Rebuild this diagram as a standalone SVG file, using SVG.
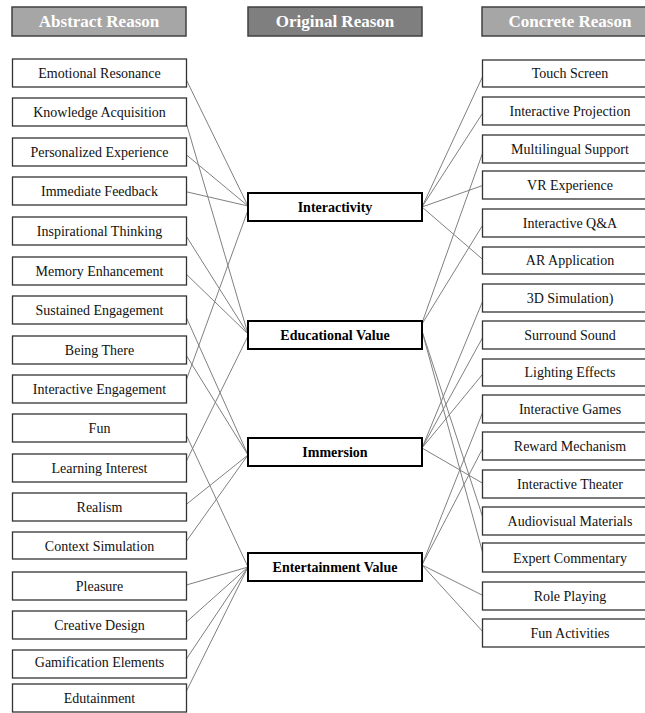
<svg xmlns="http://www.w3.org/2000/svg" width="645" height="713" viewBox="0 0 645 713">
<style>
.hdr{stroke:#404040;stroke-width:1.5}
.hl{fill:#a6a6a6}
.hm{fill:#7f7f7f}
.ht{font-family:"Liberation Serif","Times New Roman",serif;font-size:17px;font-weight:bold;fill:#ffffff;text-anchor:middle}
.sb{fill:#ffffff;stroke:#333333;stroke-width:1.3}
.mb{fill:#ffffff;stroke:#000000;stroke-width:2}
.st{font-family:"Liberation Serif","Times New Roman",serif;font-size:14px;fill:#111111;text-anchor:middle}
.mt{font-family:"Liberation Serif","Times New Roman",serif;font-size:14px;font-weight:bold;fill:#000000;text-anchor:middle}
.c line{stroke:#808080;stroke-width:1}
</style>
<rect width="645" height="713" fill="#ffffff"/>
<g id="headers">
<g id="h-abstract"><rect class="hdr hl" x="12" y="7" width="174" height="29"/><text class="ht" x="99" y="27">Abstract Reason</text></g>
<g id="h-original"><rect class="hdr hm" x="248" y="7" width="174" height="29"/><text class="ht" x="335" y="27">Original Reason</text></g>
<g id="h-concrete"><rect class="hdr hl" x="482" y="7" width="176" height="29"/><text class="ht" x="570" y="27">Concrete Reason</text></g>
</g>
<g id="connectors" class="c">
<line x1="183" y1="73" x2="248" y2="206"/>
<line x1="183" y1="152" x2="248" y2="206"/>
<line x1="183" y1="191" x2="248" y2="206"/>
<line x1="183" y1="389" x2="248" y2="210"/>
<line x1="183" y1="112" x2="248" y2="334"/>
<line x1="183" y1="231" x2="248" y2="334"/>
<line x1="183" y1="271" x2="248" y2="334"/>
<line x1="183" y1="468" x2="248" y2="336"/>
<line x1="183" y1="310" x2="248" y2="455"/>
<line x1="183" y1="350" x2="248" y2="455"/>
<line x1="183" y1="507" x2="248" y2="455"/>
<line x1="183" y1="546" x2="248" y2="455"/>
<line x1="183" y1="428" x2="248" y2="567"/>
<line x1="183" y1="586" x2="248" y2="567"/>
<line x1="183" y1="625" x2="248" y2="567"/>
<line x1="183" y1="664" x2="248" y2="567"/>
<line x1="183" y1="698" x2="248" y2="567"/>
<line x1="422" y1="207" x2="484" y2="73.5"/>
<line x1="422" y1="207" x2="484" y2="111"/>
<line x1="422" y1="207" x2="484" y2="185"/>
<line x1="422" y1="207" x2="484" y2="260.5"/>
<line x1="422" y1="323" x2="484" y2="149"/>
<line x1="422" y1="324" x2="484" y2="223"/>
<line x1="422" y1="331" x2="484" y2="521"/>
<line x1="422" y1="331" x2="484" y2="557.5"/>
<line x1="422" y1="448" x2="484" y2="298"/>
<line x1="422" y1="448" x2="484" y2="335"/>
<line x1="422" y1="448" x2="484" y2="372.5"/>
<line x1="422" y1="448" x2="484" y2="484"/>
<line x1="422" y1="565" x2="484" y2="409"/>
<line x1="422" y1="565" x2="484" y2="446"/>
<line x1="422" y1="565" x2="484" y2="596"/>
<line x1="422" y1="565" x2="484" y2="633"/>
</g>
<g id="abstract">
<g id="a1"><rect class="sb" x="12.5" y="59" width="174" height="28"/><text class="st" x="99.5" y="78">Emotional Resonance</text></g>
<g id="a2"><rect class="sb" x="12.5" y="98" width="174" height="28"/><text class="st" x="99.5" y="117">Knowledge Acquisition</text></g>
<g id="a3"><rect class="sb" x="12.5" y="138" width="174" height="28"/><text class="st" x="99.5" y="157">Personalized Experience</text></g>
<g id="a4"><rect class="sb" x="12.5" y="177" width="174" height="28"/><text class="st" x="99.5" y="196">Immediate Feedback</text></g>
<g id="a5"><rect class="sb" x="12.5" y="217" width="174" height="28"/><text class="st" x="99.5" y="236">Inspirational Thinking</text></g>
<g id="a6"><rect class="sb" x="12.5" y="257" width="174" height="28"/><text class="st" x="99.5" y="276">Memory Enhancement</text></g>
<g id="a7"><rect class="sb" x="12.5" y="296" width="174" height="28"/><text class="st" x="99.5" y="315">Sustained Engagement</text></g>
<g id="a8"><rect class="sb" x="12.5" y="336" width="174" height="28"/><text class="st" x="99.5" y="355">Being There</text></g>
<g id="a9"><rect class="sb" x="12.5" y="375" width="174" height="28"/><text class="st" x="99.5" y="394">Interactive Engagement</text></g>
<g id="a10"><rect class="sb" x="12.5" y="414" width="174" height="28"/><text class="st" x="99.5" y="433">Fun</text></g>
<g id="a11"><rect class="sb" x="12.5" y="454" width="174" height="28"/><text class="st" x="99.5" y="473">Learning Interest</text></g>
<g id="a12"><rect class="sb" x="12.5" y="493" width="174" height="28"/><text class="st" x="99.5" y="512">Realism</text></g>
<g id="a13"><rect class="sb" x="12.5" y="532" width="174" height="27"/><text class="st" x="99.5" y="551">Context Simulation</text></g>
<g id="a14"><rect class="sb" x="12.5" y="572" width="174" height="28"/><text class="st" x="99.5" y="591">Pleasure</text></g>
<g id="a15"><rect class="sb" x="12.5" y="611" width="174" height="28"/><text class="st" x="99.5" y="630">Creative Design</text></g>
<g id="a16"><rect class="sb" x="12.5" y="650" width="174" height="28"/><text class="st" x="99.5" y="667">Gamification Elements</text></g>
<g id="a17"><rect class="sb" x="12.5" y="684" width="174" height="28"/><text class="st" x="99.5" y="703">Edutainment</text></g>
</g>
<g id="original">
<g id="m1"><rect class="mb" x="248" y="193" width="174" height="28"/><text class="mt" x="335" y="212">Interactivity</text></g>
<g id="m2"><rect class="mb" x="248" y="321" width="174" height="28"/><text class="mt" x="335" y="340">Educational Value</text></g>
<g id="m3"><rect class="mb" x="248" y="438" width="174" height="28"/><text class="mt" x="335" y="457">Immersion</text></g>
<g id="m4"><rect class="mb" x="248" y="553" width="174" height="28"/><text class="mt" x="335" y="572">Entertainment Value</text></g>
</g>
<g id="concrete">
<g id="c1"><rect class="sb" x="482.5" y="60" width="176" height="27"/><text class="st" x="570" y="78">Touch Screen</text></g>
<g id="c2"><rect class="sb" x="482.5" y="97" width="176" height="28"/><text class="st" x="570" y="116">Interactive Projection</text></g>
<g id="c3"><rect class="sb" x="482.5" y="135" width="176" height="28"/><text class="st" x="570" y="154">Multilingual Support</text></g>
<g id="c4"><rect class="sb" x="482.5" y="171" width="176" height="28"/><text class="st" x="570" y="190">VR Experience</text></g>
<g id="c5"><rect class="sb" x="482.5" y="209" width="176" height="28"/><text class="st" x="570" y="228">Interactive Q&amp;A</text></g>
<g id="c6"><rect class="sb" x="482.5" y="247" width="176" height="27"/><text class="st" x="570" y="265">AR Application</text></g>
<g id="c7"><rect class="sb" x="482.5" y="284" width="176" height="28"/><text class="st" x="570" y="303">3D Simulation)</text></g>
<g id="c8"><rect class="sb" x="482.5" y="321" width="176" height="28"/><text class="st" x="570" y="340">Surround Sound</text></g>
<g id="c9"><rect class="sb" x="482.5" y="359" width="176" height="27"/><text class="st" x="570" y="377">Lighting Effects</text></g>
<g id="c10"><rect class="sb" x="482.5" y="395" width="176" height="28"/><text class="st" x="570" y="414">Interactive Games</text></g>
<g id="c11"><rect class="sb" x="482.5" y="432" width="176" height="28"/><text class="st" x="570" y="451">Reward Mechanism</text></g>
<g id="c12"><rect class="sb" x="482.5" y="470" width="176" height="28"/><text class="st" x="570" y="489">Interactive Theater</text></g>
<g id="c13"><rect class="sb" x="482.5" y="507" width="176" height="28"/><text class="st" x="570" y="526">Audiovisual Materials</text></g>
<g id="c14"><rect class="sb" x="482.5" y="543" width="176" height="29"/><text class="st" x="570" y="563">Expert Commentary</text></g>
<g id="c15"><rect class="sb" x="482.5" y="582" width="176" height="28"/><text class="st" x="570" y="601">Role Playing</text></g>
<g id="c16"><rect class="sb" x="482.5" y="619" width="176" height="28"/><text class="st" x="570" y="638">Fun Activities</text></g>
</g>
</svg>
